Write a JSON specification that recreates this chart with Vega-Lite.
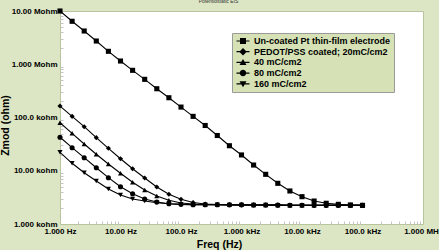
{
  "$schema": "https://vega.github.io/schema/vega-lite/v6.json",
  "width": 363,
  "height": 213,
  "autosize": {"type": "none"},
  "padding": {"left": 60, "top": 11, "right": 16, "bottom": 26},
  "background": "#dce6c4",
  "title": {"text": "Potentiostatic EIS", "fontSize": 5, "font": "Liberation Sans", "fontWeight": "normal", "color": "#333333", "anchor": "middle", "dx": -23, "offset": -2, "baseline": "bottom"},
  "config": {
    "view": {"fill": "white", "stroke": "#b8c49c", "strokeWidth": 1},
    "font": "Liberation Sans",
    "axis": {"grid": false}
  },
  "datasets": {
    "eis": [
      {"series": "Un-coated Pt thin-film electrode", "freq": 1, "z": 10000000},
      {"series": "Un-coated Pt thin-film electrode", "freq": 1.585, "z": 6410000},
      {"series": "Un-coated Pt thin-film electrode", "freq": 2.512, "z": 4210000},
      {"series": "Un-coated Pt thin-film electrode", "freq": 3.981, "z": 2730000},
      {"series": "Un-coated Pt thin-film electrode", "freq": 6.31, "z": 1750000},
      {"series": "Un-coated Pt thin-film electrode", "freq": 10, "z": 1150000},
      {"series": "Un-coated Pt thin-film electrode", "freq": 15.85, "z": 769000},
      {"series": "Un-coated Pt thin-film electrode", "freq": 25.12, "z": 521000},
      {"series": "Un-coated Pt thin-film electrode", "freq": 39.81, "z": 347000},
      {"series": "Un-coated Pt thin-film electrode", "freq": 63.1, "z": 235000},
      {"series": "Un-coated Pt thin-film electrode", "freq": 100, "z": 157000},
      {"series": "Un-coated Pt thin-film electrode", "freq": 158.5, "z": 105000},
      {"series": "Un-coated Pt thin-film electrode", "freq": 251.2, "z": 70800},
      {"series": "Un-coated Pt thin-film electrode", "freq": 398.1, "z": 45900},
      {"series": "Un-coated Pt thin-film electrode", "freq": 631, "z": 29500},
      {"series": "Un-coated Pt thin-film electrode", "freq": 1000, "z": 19800},
      {"series": "Un-coated Pt thin-film electrode", "freq": 1585, "z": 12800},
      {"series": "Un-coated Pt thin-film electrode", "freq": 2512, "z": 8570},
      {"series": "Un-coated Pt thin-film electrode", "freq": 3981, "z": 5810},
      {"series": "Un-coated Pt thin-film electrode", "freq": 6310, "z": 4170},
      {"series": "Un-coated Pt thin-film electrode", "freq": 10000, "z": 3260},
      {"series": "Un-coated Pt thin-film electrode", "freq": 15850, "z": 2700},
      {"series": "Un-coated Pt thin-film electrode", "freq": 25120, "z": 2450},
      {"series": "Un-coated Pt thin-film electrode", "freq": 39810, "z": 2340},
      {"series": "Un-coated Pt thin-film electrode", "freq": 63100, "z": 2280},
      {"series": "Un-coated Pt thin-film electrode", "freq": 100000, "z": 2240},

      {"series": "PEDOT/PSS coated; 20mC/cm2", "freq": 1, "z": 164000},
      {"series": "PEDOT/PSS coated; 20mC/cm2", "freq": 1.585, "z": 105000},
      {"series": "PEDOT/PSS coated; 20mC/cm2", "freq": 2.512, "z": 67200},
      {"series": "PEDOT/PSS coated; 20mC/cm2", "freq": 3.981, "z": 41800},
      {"series": "PEDOT/PSS coated; 20mC/cm2", "freq": 6.31, "z": 26400},
      {"series": "PEDOT/PSS coated; 20mC/cm2", "freq": 10, "z": 16800},
      {"series": "PEDOT/PSS coated; 20mC/cm2", "freq": 15.85, "z": 10900},
      {"series": "PEDOT/PSS coated; 20mC/cm2", "freq": 25.12, "z": 7310},
      {"series": "PEDOT/PSS coated; 20mC/cm2", "freq": 39.81, "z": 4950},
      {"series": "PEDOT/PSS coated; 20mC/cm2", "freq": 63.1, "z": 3610},
      {"series": "PEDOT/PSS coated; 20mC/cm2", "freq": 100, "z": 2910},
      {"series": "PEDOT/PSS coated; 20mC/cm2", "freq": 158.5, "z": 2540},
      {"series": "PEDOT/PSS coated; 20mC/cm2", "freq": 251.2, "z": 2380},
      {"series": "PEDOT/PSS coated; 20mC/cm2", "freq": 398.1, "z": 2330},
      {"series": "PEDOT/PSS coated; 20mC/cm2", "freq": 631, "z": 2300},
      {"series": "PEDOT/PSS coated; 20mC/cm2", "freq": 1000, "z": 2290},
      {"series": "PEDOT/PSS coated; 20mC/cm2", "freq": 1585, "z": 2280},
      {"series": "PEDOT/PSS coated; 20mC/cm2", "freq": 2512, "z": 2270},
      {"series": "PEDOT/PSS coated; 20mC/cm2", "freq": 3981, "z": 2260},
      {"series": "PEDOT/PSS coated; 20mC/cm2", "freq": 6310, "z": 2250},
      {"series": "PEDOT/PSS coated; 20mC/cm2", "freq": 10000, "z": 2250},
      {"series": "PEDOT/PSS coated; 20mC/cm2", "freq": 15850, "z": 2240},
      {"series": "PEDOT/PSS coated; 20mC/cm2", "freq": 25120, "z": 2240},
      {"series": "PEDOT/PSS coated; 20mC/cm2", "freq": 39810, "z": 2240},
      {"series": "PEDOT/PSS coated; 20mC/cm2", "freq": 63100, "z": 2240},
      {"series": "PEDOT/PSS coated; 20mC/cm2", "freq": 100000, "z": 2240},

      {"series": "40 mC/cm2", "freq": 1, "z": 79800},
      {"series": "40 mC/cm2", "freq": 1.585, "z": 50500},
      {"series": "40 mC/cm2", "freq": 2.512, "z": 31800},
      {"series": "40 mC/cm2", "freq": 3.981, "z": 20400},
      {"series": "40 mC/cm2", "freq": 6.31, "z": 13400},
      {"series": "40 mC/cm2", "freq": 10, "z": 8960},
      {"series": "40 mC/cm2", "freq": 15.85, "z": 6070},
      {"series": "40 mC/cm2", "freq": 25.12, "z": 4350},
      {"series": "40 mC/cm2", "freq": 39.81, "z": 3360},
      {"series": "40 mC/cm2", "freq": 63.1, "z": 2790},
      {"series": "40 mC/cm2", "freq": 100, "z": 2480},
      {"series": "40 mC/cm2", "freq": 158.5, "z": 2380},
      {"series": "40 mC/cm2", "freq": 251.2, "z": 2330},
      {"series": "40 mC/cm2", "freq": 398.1, "z": 2310},
      {"series": "40 mC/cm2", "freq": 631, "z": 2300},
      {"series": "40 mC/cm2", "freq": 1000, "z": 2290},
      {"series": "40 mC/cm2", "freq": 1585, "z": 2280},
      {"series": "40 mC/cm2", "freq": 2512, "z": 2270},
      {"series": "40 mC/cm2", "freq": 3981, "z": 2260},
      {"series": "40 mC/cm2", "freq": 6310, "z": 2250},
      {"series": "40 mC/cm2", "freq": 10000, "z": 2250},
      {"series": "40 mC/cm2", "freq": 15850, "z": 2240},
      {"series": "40 mC/cm2", "freq": 25120, "z": 2240},
      {"series": "40 mC/cm2", "freq": 39810, "z": 2240},
      {"series": "40 mC/cm2", "freq": 63100, "z": 2240},
      {"series": "40 mC/cm2", "freq": 100000, "z": 2240},

      {"series": "80 mC/cm2", "freq": 1, "z": 42500},
      {"series": "80 mC/cm2", "freq": 1.585, "z": 27100},
      {"series": "80 mC/cm2", "freq": 2.512, "z": 17600},
      {"series": "80 mC/cm2", "freq": 3.981, "z": 11400},
      {"series": "80 mC/cm2", "freq": 6.31, "z": 7410},
      {"series": "80 mC/cm2", "freq": 10, "z": 5010},
      {"series": "80 mC/cm2", "freq": 15.85, "z": 3700},
      {"series": "80 mC/cm2", "freq": 25.12, "z": 2950},
      {"series": "80 mC/cm2", "freq": 39.81, "z": 2590},
      {"series": "80 mC/cm2", "freq": 63.1, "z": 2400},
      {"series": "80 mC/cm2", "freq": 100, "z": 2340},
      {"series": "80 mC/cm2", "freq": 158.5, "z": 2310},
      {"series": "80 mC/cm2", "freq": 251.2, "z": 2300},
      {"series": "80 mC/cm2", "freq": 398.1, "z": 2300},
      {"series": "80 mC/cm2", "freq": 631, "z": 2290},
      {"series": "80 mC/cm2", "freq": 1000, "z": 2290},
      {"series": "80 mC/cm2", "freq": 1585, "z": 2280},
      {"series": "80 mC/cm2", "freq": 2512, "z": 2270},
      {"series": "80 mC/cm2", "freq": 3981, "z": 2260},
      {"series": "80 mC/cm2", "freq": 6310, "z": 2250},
      {"series": "80 mC/cm2", "freq": 10000, "z": 2250},
      {"series": "80 mC/cm2", "freq": 15850, "z": 2240},
      {"series": "80 mC/cm2", "freq": 25120, "z": 2240},
      {"series": "80 mC/cm2", "freq": 39810, "z": 2240},
      {"series": "80 mC/cm2", "freq": 63100, "z": 2240},
      {"series": "80 mC/cm2", "freq": 100000, "z": 2240},

      {"series": "160 mC/cm2", "freq": 1, "z": 22200},
      {"series": "160 mC/cm2", "freq": 1.585, "z": 13800},
      {"series": "160 mC/cm2", "freq": 2.512, "z": 9190},
      {"series": "160 mC/cm2", "freq": 3.981, "z": 6420},
      {"series": "160 mC/cm2", "freq": 6.31, "z": 4540},
      {"series": "160 mC/cm2", "freq": 10, "z": 3510},
      {"series": "160 mC/cm2", "freq": 15.85, "z": 2950},
      {"series": "160 mC/cm2", "freq": 25.12, "z": 2700},
      {"series": "160 mC/cm2", "freq": 39.81, "z": 2510},
      {"series": "160 mC/cm2", "freq": 63.1, "z": 2400},
      {"series": "160 mC/cm2", "freq": 100, "z": 2340},
      {"series": "160 mC/cm2", "freq": 158.5, "z": 2310},
      {"series": "160 mC/cm2", "freq": 251.2, "z": 2300},
      {"series": "160 mC/cm2", "freq": 398.1, "z": 2300},
      {"series": "160 mC/cm2", "freq": 631, "z": 2290},
      {"series": "160 mC/cm2", "freq": 1000, "z": 2290},
      {"series": "160 mC/cm2", "freq": 1585, "z": 2280},
      {"series": "160 mC/cm2", "freq": 2512, "z": 2270},
      {"series": "160 mC/cm2", "freq": 3981, "z": 2260},
      {"series": "160 mC/cm2", "freq": 6310, "z": 2250},
      {"series": "160 mC/cm2", "freq": 10000, "z": 2250},
      {"series": "160 mC/cm2", "freq": 15850, "z": 2240},
      {"series": "160 mC/cm2", "freq": 25120, "z": 2240},
      {"series": "160 mC/cm2", "freq": 39810, "z": 2240},
      {"series": "160 mC/cm2", "freq": 63100, "z": 2240},
      {"series": "160 mC/cm2", "freq": 100000, "z": 2240}
    ]
  },
  "data": {"name": "eis"},
  "resolve": {"scale": {"shape": "independent"}, "axis": {"x": "independent", "y": "independent"}},
  "layer": [
    {
      "mark": {"type": "line", "color": "black", "strokeWidth": 1.1, "clip": true},
      "encoding": {
        "x": {
          "field": "freq", "type": "quantitative",
          "scale": {"type": "log", "domain": [1, 1000000], "nice": false},
          "axis": {
            "orient": "bottom",
            "values": [1, 10, 100, 1000, 10000, 100000, 1000000],
            "labelExpr": "['1.000 Hz','10.00 Hz','100.0 Hz','1.000 kHz','10.00 kHz','100.0 kHz','1.000 MHz'][round(log(datum.value)/LN10)]",
            "labelFont": "Liberation Sans", "labelFontWeight": "bold", "labelFontSize": 8, "labelColor": "black",
            "labelFlush": false, "labelOverlap": false, "labelBound": false, "labelPadding": 3,
            "ticks": false, "domain": false,
            "title": "Freq (Hz)", "titleFont": "Liberation Sans", "titleFontWeight": "bold", "titleFontSize": 10.5, "titleColor": "black",
            "titleX": 159, "titleY": 23, "titleBaseline": "alphabetic", "titleAnchor": "middle"
          }
        },
        "y": {
          "field": "z", "type": "quantitative",
          "scale": {"type": "log", "domain": [1000, 10000000], "nice": false},
          "axis": {
            "orient": "left",
            "values": [1000, 10000, 100000, 1000000, 10000000],
            "labelExpr": "['1.000 kohm','10.00 kohm','100.0 kohm','1.000 Mohm','10.00 Mohm'][round(log(datum.value)/LN10)-3]",
            "labelFont": "Liberation Sans", "labelFontWeight": "bold", "labelFontSize": 8, "labelColor": "black",
            "labelFlush": false, "labelOverlap": false, "labelBound": false, "labelPadding": 3,
            "ticks": false, "domain": false,
            "title": "Zmod (ohm)", "titleFont": "Liberation Sans", "titleFontWeight": "bold", "titleFontSize": 10.5, "titleColor": "black",
            "titleX": -52, "titleY": 114, "titleAnchor": "middle", "titleAngle": -90, "titleBaseline": "alphabetic"
          }
        },
        "detail": {"field": "series"}
      }
    },
    {
      "mark": {"type": "point", "filled": true, "color": "black", "opacity": 1, "size": 26},
      "encoding": {
        "x": {
          "field": "freq", "type": "quantitative",
          "axis": {
            "orient": "bottom",
            "values": [2,3,4,5,6,7,8,9,20,30,40,50,60,70,80,90,200,300,400,500,600,700,800,900,2000,3000,4000,5000,6000,7000,8000,9000,20000,30000,40000,50000,60000,70000,80000,90000,200000,300000,400000,500000,600000,700000,800000,900000],
            "labels": false, "domain": false, "title": null,
            "tickSize": -3, "tickColor": "#c4c4c4", "tickWidth": 1
          }
        },
        "y": {
          "field": "z", "type": "quantitative",
          "axis": {
            "orient": "left",
            "values": [2000,3000,4000,5000,6000,7000,8000,9000,20000,30000,40000,50000,60000,70000,80000,90000,200000,300000,400000,500000,600000,700000,800000,900000,2000000,3000000,4000000,5000000,6000000,7000000,8000000,9000000],
            "labels": false, "domain": false, "title": null,
            "tickSize": -3, "tickColor": "#c4c4c4", "tickWidth": 1
          }
        },
        "shape": {
          "field": "series", "type": "nominal",
          "scale": {
            "domain": ["Un-coated Pt thin-film electrode", "PEDOT/PSS coated; 20mC/cm2", "40 mC/cm2", "80 mC/cm2", "160 mC/cm2"],
            "range": ["square", "diamond", "triangle-up", "circle", "triangle-down"]
          },
          "legend": null
        }
      }
    },
    {
      "transform": [{"filter": "false"}],
      "mark": {"type": "point", "filled": true, "color": "black"},
      "encoding": {
        "x": {"field": "freq", "type": "quantitative", "axis": null},
        "y": {"field": "z", "type": "quantitative", "axis": null},
        "shape": {
          "field": "series", "type": "nominal",
          "scale": {
            "domain": ["Un-coated Pt thin-film electrode", "PEDOT/PSS coated; 20mC/cm2", "40 mC/cm2", "80 mC/cm2", "160 mC/cm2"],
            "range": [
              "M-0.6,-0.6H0.6V0.6H-0.6Z M-1.3,-0.12H1.3V0.12H-1.3Z",
              "M0,-0.75L0.75,0L0,0.75L-0.75,0Z M-1.3,-0.12H1.3V0.12H-1.3Z",
              "M0,-0.7L0.7,0.5L-0.7,0.5Z M-1.3,-0.12H1.3V0.12H-1.3Z",
              "M-0.65,0A0.65,0.65,0,1,1,0.65,0A0.65,0.65,0,1,1,-0.65,0Z M-1.3,-0.12H1.3V0.12H-1.3Z",
              "M0,0.7L-0.7,-0.5L0.7,-0.5Z M-1.3,-0.12H1.3V0.12H-1.3Z"
            ]
          },
          "legend": {
            "title": null, "orient": "none", "legendX": 172, "legendY": 22,
            "fillColor": "#d6e2b6", "strokeColor": "#9a9a9a", "padding": 3,
            "symbolSize": 100, "symbolFillColor": "black", "symbolStrokeWidth": 0, "symbolOpacity": 1, "symbolOffset": 3,
            "labelFont": "Liberation Sans", "labelFontWeight": "bold", "labelFontSize": 9, "labelColor": "black",
            "labelOffset": 6, "rowPadding": 0.7, "labelLimit": 300
          }
        }
      }
    }
  ]
}
